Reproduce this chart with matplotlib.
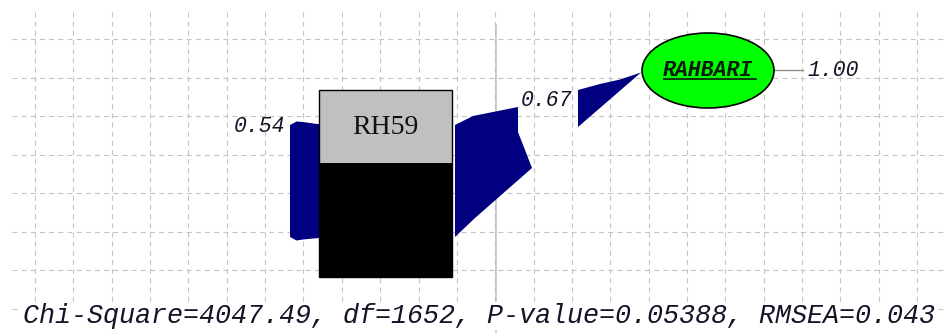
import matplotlib
matplotlib.use("Agg")
import matplotlib.pyplot as plt
from matplotlib.patches import Rectangle, Ellipse, Polygon
import numpy as np

plt.rcParams['lines.scale_dashes'] = False

# Model: one observed indicator loading on one latent factor
observed = ["RH59"]
latent = ["RAHBARI"]
error_variance = [0.54]
loadings = [0.67]
latent_variance = [1.00]

# Fit statistics
chi_square = 4047.49
df = 1652
p_value = 0.05388
rmsea = 0.043

W, H = 945, 333
fig = plt.figure(figsize=(W / 100, H / 100), dpi=100)
ax = fig.add_axes([0, 0, 1, 1])
ax.set_xlim(0, W)
ax.set_ylim(H, 0)
ax.axis("off")

# Dashed background grid
grid_c = "#c4c4c4"
dash = (0, (3.6, 3.0))
gx = 35 + 38.35 * np.arange(0, 25)
gy = 39 + 38.5 * np.arange(0, 8)
for x in gx:
    ax.plot([x, x], [12, H], color=grid_c, lw=0.8, ls=dash, zorder=0)
for y in gy:
    ax.plot([12, W], [y, y], color=grid_c, lw=0.8, ls=dash, zorder=0)
# centre guide line
ax.plot([495.5, 495.5], [25, H], color="#c0c0c0", lw=1.1, zorder=0.5)

navy = "#000080"

# error arrow into the indicator
err = Polygon([(290, 125), (296.5, 121.5), (303, 122), (317, 124), (319, 124),
               (319, 238), (303, 239.5), (296.5, 240.5), (290, 237)],
              closed=True, fc=navy, ec="none", zorder=2)
ax.add_patch(err)

# loading arrow (two pieces)
shaft = Polygon([(455, 125), (473, 116), (518, 107), (518, 132), (532, 168),
                 (475, 218), (455, 237)], closed=True, fc=navy, ec="none", zorder=2)
ax.add_patch(shaft)
head = Polygon([(578, 90), (600, 84), (620, 79.5), (641, 72.5), (578, 127)],
               closed=True, fc=navy, ec="none", zorder=2)
ax.add_patch(head)

# observed variable box
bx0, bx1, by0, bmid, by1 = 319, 452, 90, 163, 277
ax.add_patch(Rectangle((bx0, bmid), bx1 - bx0, by1 - bmid, fc="black", ec="none", zorder=3))
ax.add_patch(Rectangle((bx0, by0), bx1 - bx0, bmid - by0, fc="#c0c0c0", ec="none", zorder=3))
ax.add_patch(Rectangle((bx0, by0), bx1 - bx0, by1 - by0, fc="none", ec="black", lw=1.0, zorder=4))
ax.text((bx0 + bx1) / 2, 127.5, observed[0], family="Liberation Serif", fontsize=20,
        ha="center", va="center", color="#111111", zorder=5)

# latent variable ellipse
ex, ey, ew, eh = 708, 70.5, 132, 75
ax.add_patch(Ellipse((ex, ey), ew, eh, fc="#00ff00", ec="black", lw=1.2, zorder=3))
ax.text(ex, 70, latent[0], family="Liberation Mono", style="italic", weight="bold",
        fontsize=15.5, ha="center", va="center", color="#0a1a0a", zorder=5)
ax.plot([664, 756], [79, 79], color="#0a1a0a", lw=1.2, zorder=5)

# latent variance stub
ax.plot([ex + ew / 2, 803], [70, 70], color="#909090", lw=1.0, zorder=2)

mono = dict(family="Liberation Mono", style="italic", fontsize=15.5, color="#141428", zorder=5)
ax.text(234, 127, f"{error_variance[0]:.2f}", ha="left", va="center", **mono)
ax.text(521, 100, f"{loadings[0]:.2f}", ha="left", va="center", **mono)
ax.text(807, 70, f"{latent_variance[0]:.2f}", ha="left", va="center", **mono)

ax.text(23, 316,
        f"Chi-Square={chi_square:.2f}, df={df}, P-value={p_value:.5f}, RMSEA={rmsea:.3f}",
        family="Liberation Mono", style="italic", fontsize=19.3, color="#141428",
        ha="left", va="center", zorder=5,
        bbox=dict(fc="white", ec="none", pad=1.0))

fig.savefig("out.png", dpi=100)
